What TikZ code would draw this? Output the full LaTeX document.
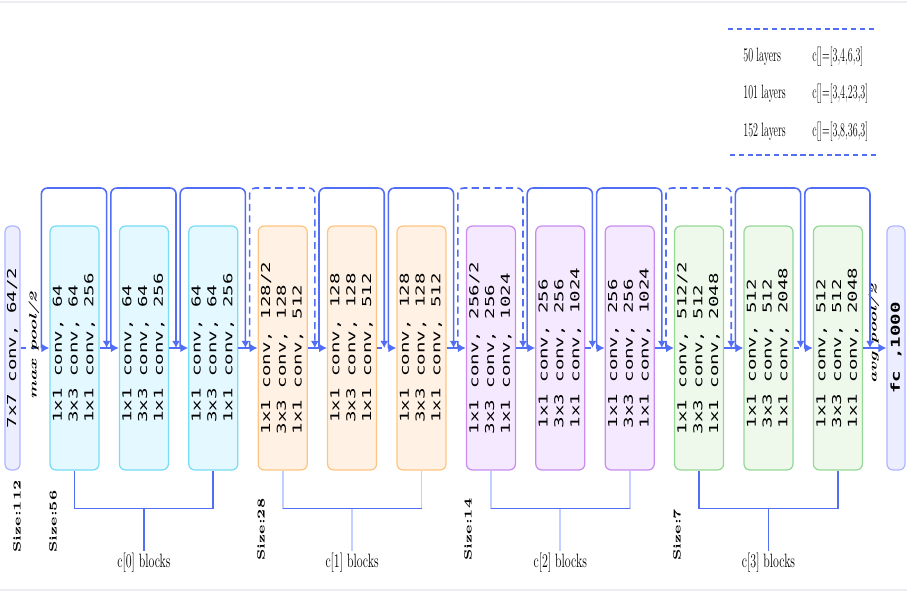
\documentclass[tikz,border=0pt]{standalone}
\usepackage{fontspec}
\usepackage{graphicx}
\usetikzlibrary{arrows.meta}
\newfontfamily\monofont{DejaVu Sans Mono}

\definecolor{linkblue}{RGB}{82,110,245}
\definecolor{lightlink}{RGB}{195,205,255}
\definecolor{framegray}{RGB}{236,236,240}
\definecolor{fillA}{RGB}{228,249,255}
\definecolor{lineA}{RGB}{120,220,245}
\definecolor{fillB}{RGB}{255,242,228}
\definecolor{lineB}{RGB}{255,196,130}
\definecolor{fillC}{RGB}{245,233,255}
\definecolor{lineC}{RGB}{200,140,240}
\definecolor{fillD}{RGB}{238,249,236}
\definecolor{lineD}{RGB}{150,215,150}
\definecolor{fillE}{RGB}{236,238,255}
\definecolor{lineE}{RGB}{175,182,255}

% text set upright in the boxes
\newcommand{\convtext}[3]{\rotatebox{90}{\scalebox{1.55}[1]{\monofont\fontsize{7}{9}\selectfont
  \begin{tabular}{@{}l@{}}1x1 conv, #1\\3x3 conv, #2\\1x1 conv, #3\end{tabular}}}}
\newcommand{\uptext}[1]{\rotatebox{90}{\scalebox{1.55}[1]{\monofont\fontsize{7}{9}\selectfont #1}}}
\newcommand{\narrowtext}[1]{\scalebox{0.62}[1]{#1}}
\newcommand{\legnarrow}[1]{\scalebox{0.52}[1]{#1}}

\tikzset{
  block/.style={draw, line width=0.7pt, rounded corners=0.12cm, minimum width=0.98cm,
    minimum height=4.88cm, inner sep=0pt},
  stageA/.style={block, fill=fillA, draw=lineA},
  stageB/.style={block, fill=fillB, draw=lineB},
  stageC/.style={block, fill=fillC, draw=lineC},
  stageD/.style={block, fill=fillD, draw=lineD},
  endbox/.style={draw=lineE, fill=fillE, line width=0.7pt, rounded corners=0.12cm,
    minimum height=4.88cm, inner sep=0pt},
  flow/.style={draw=linkblue, line width=1.1pt, -{Latex[length=4.5pt,width=5pt]}},
  skip/.style={draw=linkblue, line width=0.9pt, rounded corners=0.12cm,
    -{Latex[length=4pt,width=4.5pt]}},
  bracket/.style={draw=linkblue, line width=1pt},
  legendrule/.style={draw=linkblue, line width=1.2pt, dash pattern=on 3pt off 2pt},
  sizelab/.style={rotate=90, anchor=west, inner sep=0pt, font=\bfseries\fontsize{6}{7}\selectfont},
  poollab/.style={rotate=90, inner sep=0pt, font=\bfseries\itshape\fontsize{6}{7}\selectfont},
  grouplab/.style={inner sep=1pt, font=\fontsize{11}{13}\selectfont},
  legtext/.style={anchor=west, inner sep=0pt, font=\fontsize{11}{13}\selectfont}
}

\begin{document}
\begin{tikzpicture}[x=0.02cm, y=-0.02cm]
	\useasboundingbox (0,0) rectangle (907,595);
	\draw[framegray, line width=0.8pt] (0,2) -- (907,2);
	\draw[framegray, line width=0.8pt] (0,590) -- (907,590);

	% legend
	\draw[legendrule] (728,29) -- (876,29);
	\draw[legendrule] (730,155) -- (877,155);
	\node[legtext] (l50) at (743,57) {\legnarrow{50 layers}};
	\node[legtext] (c50) at (812,57) {\legnarrow{c[]=[3,4,6,3]}};
	\node[legtext] (l101) at (743,94) {\legnarrow{101 layers}};
	\node[legtext] (c101) at (812,94) {\legnarrow{c[]=[3,4,23,3]}};
	\node[legtext] (l152) at (743,132) {\legnarrow{152 layers}};
	\node[legtext] (c152) at (812,132) {\legnarrow{c[]=[3,8,36,3]}};

	% the blocks
	\node[endbox, minimum width=0.3cm] (inp) at (12.5,348) {\uptext{7x7 conv, 64/2}};
	\node[stageA] (b1) at (74.5,348) {\convtext{64}{64}{256}};
	\node[stageA] (b2) at (143.9,348) {\convtext{64}{64}{256}};
	\node[stageA] (b3) at (213.3,348) {\convtext{64}{64}{256}};
	\node[stageB] (b4) at (282.7,348) {\convtext{128/2}{128}{512}};
	\node[stageB] (b5) at (352.1,348) {\convtext{128}{128}{512}};
	\node[stageB] (b6) at (421.5,348) {\convtext{128}{128}{512}};
	\node[stageC] (b7) at (490.9,348) {\convtext{256/2}{256}{1024}};
	\node[stageC] (b8) at (560.3,348) {\convtext{256}{256}{1024}};
	\node[stageC] (b9) at (629.7,348) {\convtext{256}{256}{1024}};
	\node[stageD] (b10) at (699.1,348) {\convtext{512/2}{512}{2048}};
	\node[stageD] (b11) at (768.5,348) {\convtext{512}{512}{2048}};
	\node[stageD] (b12) at (837.9,348) {\convtext{512}{512}{2048}};
	\node[endbox, minimum width=0.36cm] (fc) at (896,348) {\uptext{\bfseries fc ,1000}};

	% main line
	\draw[flow, dashed] (inp) -- (b1);
	\draw[flow] (b1) -- (b2);
	\draw[flow] (b2) -- (b3);
	\draw[flow] (b3) -- (b4);
	\draw[flow] (b4) -- (b5);
	\draw[flow, dashed] (b5) -- (b6);
	\draw[flow] (b6) -- (b7);
	\draw[flow] (b7) -- (b8);
	\draw[flow, dashed] (b8) -- (b9);
	\draw[flow] (b9) -- (b10);
	\draw[flow] (b10) -- (b11);
	\draw[flow, dashed] (b11) -- (b12);
	\draw[flow] (b12) -- (fc);
	\node[poollab] (mp) at (34,346) {\scalebox{1.8}[1]{max pool/2}};
	\node[poollab] (ap) at (874,334) {\scalebox{1.8}[1]{avg pool/2}};

	% shortcuts
	\draw[skip] ([xshift=-0.16cm]b1.west) -- ++(0,-160) -| ([xshift=0.14cm]b1.east);
	\draw[skip] ([xshift=-0.16cm]b2.west) -- ++(0,-160) -| ([xshift=0.14cm]b2.east);
	\draw[skip] ([xshift=-0.16cm]b3.west) -- ++(0,-160) -| ([xshift=0.14cm]b3.east);
	\draw[skip, dash pattern=on 4pt off 2.5pt] ([xshift=-0.16cm]b4.west) -- ++(0,-160) -| ([xshift=0.14cm]b4.east);
	\draw[skip] ([xshift=-0.16cm]b5.west) -- ++(0,-160) -| ([xshift=0.14cm]b5.east);
	\draw[skip] ([xshift=-0.16cm]b6.west) -- ++(0,-160) -| ([xshift=0.14cm]b6.east);
	\draw[skip, dash pattern=on 4pt off 2.5pt] ([xshift=-0.16cm]b7.west) -- ++(0,-160) -| ([xshift=0.14cm]b7.east);
	\draw[skip] ([xshift=-0.16cm]b8.west) -- ++(0,-160) -| ([xshift=0.14cm]b8.east);
	\draw[skip] ([xshift=-0.16cm]b9.west) -- ++(0,-160) -| ([xshift=0.14cm]b9.east);
	\draw[skip, dash pattern=on 4pt off 2.5pt] ([xshift=-0.16cm]b10.west) -- ++(0,-160) -| ([xshift=0.14cm]b10.east);
	\draw[skip] ([xshift=-0.16cm]b11.west) -- ++(0,-160) -| ([xshift=0.14cm]b11.east);
	\draw[skip] ([xshift=-0.16cm]b12.west) -- ++(0,-160) -| ([xshift=0.14cm]b12.east);

	% sizes
	\node[sizelab] (s112) at (17,553) {\scalebox{1.4}[1]{Size:112}};
	\node[sizelab] (s56) at (53,553) {\scalebox{1.4}[1]{Size:56}};
	\node[sizelab] (s28) at (261,561) {\scalebox{1.4}[1]{Size:28}};
	\node[sizelab] (s14) at (468,561) {\scalebox{1.4}[1]{Size:14}};
	\node[sizelab] (s7) at (677,561) {\scalebox{1.4}[1]{Size:7}};

	% groups of blocks
	\node[grouplab] (g0) at (b2 |- 0,563) {\narrowtext{c[0] blocks}};
	\node[grouplab] (g1) at (b5 |- 0,563) {\narrowtext{c[1] blocks}};
	\node[grouplab] (g2) at (b8 |- 0,563) {\narrowtext{c[2] blocks}};
	\node[grouplab] (g3) at (b11 |- 0,563) {\narrowtext{c[3] blocks}};
	\draw[bracket] (b1.south) -- ++(0,38) -| (b3.south);
	\draw[bracket] ([yshift=-0.76cm]b2.south) -- (g0.north);
	\draw[bracket, lightlink] (b4.south) -- ++(0,38);
	\draw[bracket, lightlink] (b6.south) -- ++(0,38);
	\draw[bracket] ([yshift=-0.76cm]b4.south) -- ([yshift=-0.76cm]b6.south);
	\draw[bracket, lightlink] ([yshift=-0.76cm]b5.south) -- (g1.north);
	\draw[bracket, lightlink] (b7.south) -- ++(0,38);
	\draw[bracket, lightlink] (b9.south) -- ++(0,38);
	\draw[bracket] ([yshift=-0.76cm]b7.south) -- ([yshift=-0.76cm]b9.south);
	\draw[bracket, lightlink] ([yshift=-0.76cm]b8.south) -- (g2.north);
	\draw[bracket] (b10.south) -- ++(0,38) -| (b12.south);
	\draw[bracket] ([yshift=-0.76cm]b11.south) -- (g3.north);
\end{tikzpicture}
\end{document}
